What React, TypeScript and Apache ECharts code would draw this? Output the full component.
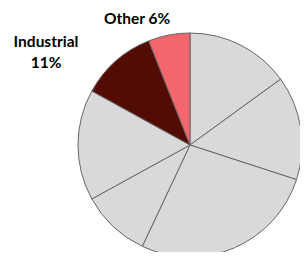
import React, { useEffect, useRef } from "react";
import * as echarts from "echarts";

const categories = ["Residential", "Commercial", "Transportation", "Agriculture", "Electric Power", "Industrial", "Other"];
const values = [15, 15, 27, 10, 16, 11, 6];
const colors = ["#d9d9d9", "#d9d9d9", "#d9d9d9", "#d9d9d9", "#d9d9d9", "#520c04", "#f2666c"];
const showLabel = [false, false, false, false, false, true, true];

export default function App() {
  const ref = useRef<HTMLDivElement>(null);
  useEffect(() => {
    if (!ref.current) return;
    const chart = echarts.init(ref.current, undefined, { renderer: "svg" });
    chart.setOption({
      animation: false,
      series: [
        {
          type: "pie",
          center: [182, 137],
          radius: 112,
          startAngle: 90,
          clockwise: true,
          avoidLabelOverlap: false,
          data: categories.map((name, i) => ({
            name,
            value: values[i],
            itemStyle: { color: colors[i] },
            label: { show: showLabel[i] },
          })),
          itemStyle: { borderColor: "#666666", borderWidth: 1 },
          label: {
            position: "outside",
            fontFamily: "Lato",
            fontWeight: "bold",
            fontSize: 15.5,
            color: "#000000",
            lineHeight: 21,
            align: "center",
            overflow: "none",
            formatter: (p: any) =>
              p.name === "Industrial" ? `${p.name}\n${Math.round(p.percent)}%` : `${p.name} ${Math.round(p.percent)}%`,
          },
          labelLine: { show: false },
          labelLayout: (p: any) => {
            if (p.dataIndex === 5) return { x: 38, y: 43, align: "center", verticalAlign: "middle" };
            if (p.dataIndex === 6) return { x: 129, y: 10, align: "center", verticalAlign: "middle" };
            return {};
          },
          emphasis: { disabled: true },
        },
      ],
    });
    return () => chart.dispose();
  }, []);
  return <div ref={ref} style={{ width: 292, height: 244 }} />;
}
